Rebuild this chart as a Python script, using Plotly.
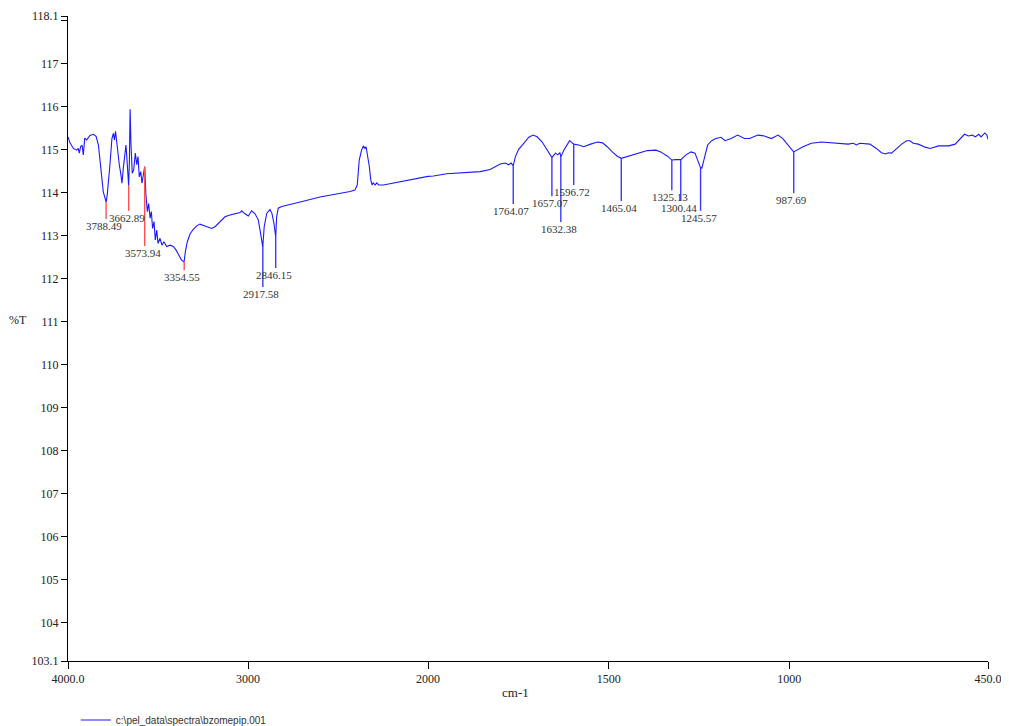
import numpy as np
import plotly.graph_objects as go

# ---- spectrum data (wavenumber cm-1, %T) ----
wavenumber = [
    4000, 3989, 3970, 3952, 3943, 3937, 3930, 3922, 3915, 3907, 3896, 3878, 3859, 3844, 3831,
    3818, 3804, 3788, 3782, 3767, 3756, 3748, 3742, 3736, 3726, 3715, 3707, 3700, 3693, 3685,
    3678, 3674, 3663, 3659, 3655, 3650, 3643, 3635, 3626, 3618, 3611, 3604, 3596, 3589, 3582,
    3574, 3567, 3559, 3552, 3544, 3537, 3530, 3522, 3515, 3507, 3500, 3489, 3478, 3467, 3452,
    3433, 3415, 3400, 3385, 3370, 3355, 3348, 3337, 3322, 3304, 3285, 3267, 3248, 3230, 3202,
    3183, 3156, 3128, 3100, 3072, 3044, 3035, 3017, 2998, 2980, 2961, 2943, 2933, 2922, 2918,
    2910, 2896, 2878, 2867, 2856, 2846, 2841, 2832, 2813, 2767, 2693, 2600, 2526, 2433, 2406,
    2393, 2382, 2369, 2359, 2350, 2344, 2335, 2326, 2318, 2311, 2304, 2294, 2285, 2274, 2248,
    2156, 2063, 2000,
    1985, 1948, 1920, 1893, 1856, 1828, 1800, 1786, 1777, 1770, 1764, 1758, 1749, 1735, 1721,
    1709, 1698, 1684, 1670, 1661, 1657, 1647, 1641, 1635, 1632, 1624, 1615, 1608, 1601, 1597,
    1583, 1569, 1550, 1531, 1517, 1504, 1490, 1476, 1465, 1448, 1420, 1393, 1369, 1356, 1337,
    1325, 1314, 1300, 1286, 1272, 1261, 1254, 1246, 1242, 1235, 1226, 1215, 1203, 1189, 1178,
    1161, 1143, 1124, 1110, 1087, 1069, 1050, 1031, 1018, 1004, 988, 962, 939, 911, 874,
    837, 823, 814, 805, 777, 759, 745, 733, 726, 717, 703, 689, 675, 666, 657,
    643, 624, 610, 587, 559, 541, 527, 515, 504, 494, 485, 476, 469, 459, 453, 450,
]
transmittance = [
    115.29, 115.15, 115.02, 114.98, 115.02, 114.91, 115.06, 115.10, 114.87, 115.26, 115.22, 115.32, 115.35, 115.30, 115.10,
    114.55, 114.01, 113.77, 113.94, 114.64, 115.25, 115.37, 115.22, 115.42, 115.02, 114.64, 114.44, 114.21, 114.55, 114.91,
    115.10, 114.87, 114.15, 114.71, 115.93, 115.10, 114.44, 114.52, 114.91, 114.64, 114.83, 114.36, 114.48, 114.21, 114.40,
    114.60, 113.94, 113.55, 113.74, 113.40, 113.55, 113.16, 113.32, 112.89, 113.12, 112.81, 112.93, 112.77, 112.85, 112.74,
    112.77, 112.74, 112.66, 112.54, 112.43, 112.38, 112.62, 112.85, 113.03, 113.14, 113.22, 113.26, 113.23, 113.20, 113.16,
    113.20, 113.32, 113.43, 113.47, 113.50, 113.53, 113.57, 113.50, 113.45, 113.57, 113.50, 113.36, 113.12, 112.80, 112.73,
    113.20, 113.51, 113.60, 113.51, 113.28, 112.96, 113.43, 113.63, 113.67, 113.71, 113.79, 113.89, 113.94, 114.02, 114.05,
    114.17, 114.75, 114.98, 115.08, 115.02, 115.06, 114.87, 114.60, 114.29, 114.17, 114.22, 114.17, 114.22, 114.17, 114.17,
    114.25, 114.33, 114.37,
    114.38, 114.43, 114.44, 114.46, 114.48, 114.53, 114.66, 114.68, 114.64, 114.68, 114.62, 114.83, 115.00, 115.14, 115.28,
    115.33, 115.29, 115.17, 114.98, 114.87, 114.81, 114.91, 114.87, 114.92, 114.83, 114.98, 115.10, 115.20, 115.15, 115.12,
    115.10, 115.06, 115.12, 115.17, 115.15, 115.06, 114.94, 114.84, 114.79, 114.83, 114.91, 114.97, 114.98, 114.94, 114.84,
    114.75, 114.76, 114.76, 114.87, 114.94, 114.91, 114.75, 114.58, 114.56, 114.79, 115.10, 115.20, 115.25, 115.28, 115.20,
    115.25, 115.33, 115.25, 115.25, 115.33, 115.31, 115.25, 115.33, 115.25, 115.10, 114.94, 115.06, 115.14, 115.17, 115.15,
    115.12, 115.14, 115.10, 115.14, 115.12, 115.02, 114.92, 114.89, 114.92, 114.91, 115.02, 115.12, 115.20, 115.20, 115.14,
    115.12, 115.05, 115.02, 115.08, 115.08, 115.12, 115.25, 115.35, 115.31, 115.33, 115.29, 115.35, 115.29, 115.38, 115.33, 115.23,
]

# ---- peak picks ----
peaks = [3788.49, 3662.89, 3573.94, 3354.55, 2917.58, 2846.15, 1764.07, 1657.07,
         1632.38, 1596.72, 1465.04, 1325.13, 1300.44, 1245.57, 987.69]
peak_label_T = [113.38, 113.57, 112.75, 112.19, 111.80, 112.24, 113.73, 113.91,
                113.31, 114.17, 113.80, 114.05, 113.80, 113.57, 113.98]
peak_colors = ["#ff5050"] * 4 + ["#3a3aff"] * 11

# ---- axis ticks ----
x_hi_ticks = [4000, 3000]
x_hi_text = ["4000.0", "3000"]
x_lo_ticks = [2000, 1500, 1000, 450]
x_lo_text = ["2000", "1500", "1000", "450.0"]
y_ticks = [103.1] + list(range(104, 119)) + [118.1]
y_text = ["103.1"] + [str(v) for v in range(104, 118)] + ["", "118.1"]

legend_name = "c:\\pel_data\\spectra\\bzomepip.001"

w = np.array(wavenumber, dtype=float)
t = np.array(transmittance, dtype=float)
hi = w >= 2000
lo = w <= 2000

serif = "Liberation Serif, Times New Roman, serif"
fig = go.Figure()
fig.add_trace(go.Scatter(x=w[hi], y=t[hi], xaxis="x", yaxis="y", mode="lines",
                         line=dict(color="#1a1aff", width=1.1), name=legend_name,
                         showlegend=True))
fig.add_trace(go.Scatter(x=w[lo], y=t[lo], xaxis="x2", yaxis="y", mode="lines",
                         line=dict(color="#1a1aff", width=1.1), name=legend_name,
                         showlegend=False))

# peak marker lines
order_w = w[::-1]
order_t = t[::-1]
groups = {}
for p, lt, c in zip(peaks, peak_label_T, peak_colors):
    ax = "x" if p >= 2000 else "x2"
    top = float(np.interp(p, order_w, order_t))
    g = groups.setdefault((ax, c), ([], []))
    g[0].extend([p, p, None])
    g[1].extend([top, lt, None])
for (ax, c), (xs, ys) in groups.items():
    fig.add_trace(go.Scatter(x=xs, y=ys, xaxis=ax, yaxis="y", mode="lines",
                             line=dict(color=c, width=1.4), showlegend=False,
                             hoverinfo="skip"))

annotations = []
for p, lt in zip(peaks, peak_label_T):
    ax = "x" if p >= 2000 else "x2"
    annotations.append(dict(x=p, y=lt, xref=ax, yref="y", text=f"{p:.2f}",
                            showarrow=False, xanchor="center", yanchor="top",
                            xshift=-2, yshift=1,
                            font=dict(family=serif, size=11, color="#333333")))
annotations.append(dict(x=-0.0543, y=0.5287, xref="paper", yref="paper", text="%T",
                        showarrow=False, xanchor="center", yanchor="middle",
                        font=dict(family=serif, size=12, color="#222222")))
annotations.append(dict(x=0.4859, y=-0.0496, xref="paper", yref="paper", text="cm-1",
                        showarrow=False, xanchor="center", yanchor="middle",
                        font=dict(family=serif, size=13, color="#222222")))

split = 360 / 920
axis_common = dict(showline=True, linecolor="black", linewidth=1, ticks="outside",
                   ticklen=7, tickcolor="black", showgrid=False, zeroline=False,
                   tickfont=dict(family=serif, size=12, color="#222222"))
fig.update_layout(
    width=1009, height=726,
    margin=dict(l=60, r=29, t=8, b=73, autoexpand=False),
    plot_bgcolor="white", paper_bgcolor="white",
    xaxis=dict(domain=[0, split], range=[4000, 2000], tickmode="array",
               tickvals=x_hi_ticks, ticktext=x_hi_text, anchor="y", **axis_common),
    xaxis2=dict(domain=[split, 1], range=[2000, 450], tickmode="array",
                tickvals=x_lo_ticks, ticktext=x_lo_text, anchor="y", **axis_common),
    yaxis=dict(range=[103.1, 118.1], tickmode="array", tickvals=y_ticks,
               ticktext=y_text, anchor="x", showline=True, linecolor="black",
               linewidth=1, ticks="outside", ticklen=6, tickcolor="black",
               showgrid=False, zeroline=False,
               tickfont=dict(family=serif, size=12, color="#222222")),
    showlegend=True,
    legend=dict(x=0.0085, y=-0.0915, xanchor="left", yanchor="middle", orientation="h",
                font=dict(family="Liberation Sans, Arial, sans-serif", size=10,
                          color="#333333"),
                bgcolor="rgba(0,0,0,0)"),
    annotations=annotations,
)

fig.write_html("out.html")
